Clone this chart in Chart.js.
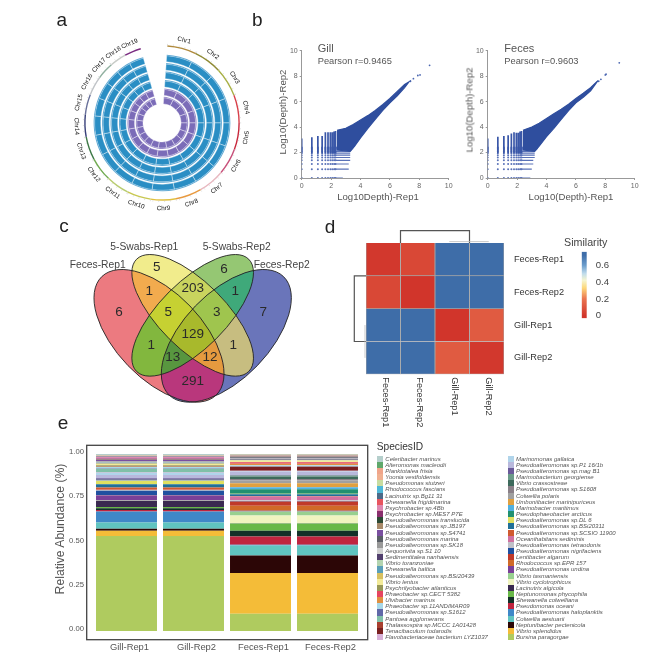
<!DOCTYPE html>
<html>
<head>
<meta charset="utf-8">
<script src="https://cdn.jsdelivr.net/npm/chart.js@4/dist/chart.umd.min.js"></script>
<style>
body { margin: 0; background: #fff; font-family: "Liberation Sans", Arial, sans-serif; }
#page { position: relative; width: 669px; height: 659px; overflow: hidden; filter: blur(0.35px); }
canvas { position: absolute; }
.txt { position: absolute; white-space: nowrap; transform-origin: center; }
.sw { position: absolute; width: 6px; height: 6.15px; }
</style>
</head>
<body>
<div id="page"></div>
<script>
// panel a : chromosome sizes (read from arc lengths)
const chrNames = ['Chr1','Chr2','Chr3','Chr4','Chr5','Chr6','Chr7','Chr8','Chr9','Chr10','Chr11','Chr12','Chr13','Chr14','Chr15','Chr16','Chr17','Chr18','Chr19'];
const chrSizes = [22,21,22,21,20,20,20,19.5,19,18,17.5,18,17.5,16.5,15.5,14.5,13,12.5,12.5];
const chrColors = ['#b08a3c','#8f8a34','#a8b044','#d8404a','#c8283c','#c8507a','#e8b8c0','#e89a40','#e0c040','#c8c850','#b8cc70','#70aa50','#3f7a48','#38407a','#68709a','#c0c4c8','#90b0a0','#c8ccc8','#7a2a80'];

// panel b : outline of the dense cloud and the discrete columns / rows
const depthColX = [0,0.69,1.1,1.39,1.61,1.79,1.95,2.08,2.2,2.3];
const depthLevels = [0,0.69,1.1,1.39,1.61,1.79,1.95,2.08,2.2,2.3,2.4];
const gillBodyX = [2.4,3,3.5,4,4.5,5,5.5,6,6.5,7,7.3,7,6.5,6,5.5,5,4.5,4,3.6,3.3,2.4];
const gillBodyY = [3.75,3.9,4.2,4.55,4.9,5.3,5.75,6.25,6.8,7.35,7.55,7.1,6.45,5.9,5.3,4.6,3.9,3.15,2.5,2.1,2.2];
const gillTipX = [7.4,7.6,7.9,8.05,8.7];
const gillTipY = [7.6,7.8,8.05,8.1,8.85];
const gillColTop = [3.1,3.2,3.3,3.3,3.6,3.6,3.6,3.6,3.65,3.7];
const gillRowEnd = [2.8,3.2,3.2,3.3,3.3,3.3,3.3,3.3,3.4,3.5,3.5];
const fecesBodyX = [2.4,3,3.5,4,4.5,5,5.5,6,6.5,7,7.5,7,6.5,6,5.5,5,4.5,4,3.5,3.2,2.4];
const fecesBodyY = [3.75,4,4.3,4.67,5.05,5.4,5.8,6.25,6.65,7.1,7.65,6.85,6.35,5.9,5.3,4.6,3.9,3.25,2.5,2.1,2.2];
const fecesTipX = [7.55,7.7,8,8.05,8.95];
const fecesTipY = [7.6,7.75,8.1,8.15,9.05];
const fecesColTop = [3.1,3.25,3.3,3.35,3.5,3.6,3.55,3.55,3.65,3.7];
const fecesRowEnd = [2.9,3,3.1,3.1,3.2,3.2,3.2,3.2,3.3,3.4,3.4];

// panel c : venn counts
const vennCounts = [6,5,6,7,1,203,1,5,3,129,1,1,13,12,291];
const vennNames = ['Feces-Rep1','5-Swabs-Rep1','5-Swabs-Rep2','Feces-Rep2'];

// panel d : similarity matrix
const heatNames = ['Feces-Rep1','Feces-Rep2','Gill-Rep1','Gill-Rep2'];
const heatRow1 = [0.01,0.06,0.75,0.75];
const heatRow2 = [0.06,0,0.75,0.75];
const heatRow3 = [0.75,0.75,0,0.12];
const heatRow4 = [0.75,0.75,0.12,0.01];

// panel e : species (legend order = top of the stack first)
const samples = ['Gill-Rep1','Gill-Rep2','Feces-Rep1','Feces-Rep2'];
const species = ['Celeribacter marinus','Alteromonas macleodii','Planktotalea frisia','Yoonia vestfoldensis','Pseudomonas stutzeri','Rhodococcus fascians','Lacinutrix sp.Bg11 31','Shewanella frigidimarina','Psychrobacter sp.4Bb','Psychrobacter sp.MES7 P7E','Pseudoalteromonas translucida','Pseudoalteromonas sp.JB197','Pseudoalteromonas sp.S4741','Pseudoalteromonas marina','Pseudoalteromonas sp.SK18','Aequorivita sp.S1 10','Sedimentitalea nanhaiensis','Vibrio toranzoniae','Shewanella baltica','Pseudoalteromonas sp.BSi20439','Vibrio lentus','Psychrilyobacter atlanticus','Phaeobacter sp.CECT 5382','Ulvibacter marinus','Phaeobacter sp.11ANDIMAR09','Pseudoalteromonas sp.S1612','Pantoea agglomerans','Thalassospira sp.MCCC 1A01428','Tenacibaculum todarodis','Flavobacteriaceae bacterium LYZ1037',
  'Marinomonas gallaica','Pseudoalteromonas sp.P1 16/1b','Pseudoalteromonas sp.mag B1','Marimobacterium georgiense','Vibrio crassostreae','Pseudoalteromonas sp.S1608','Colwellia polaris','Umboniibacter marinipuriceus','Marinobacter maritimus','Pseudophaeobacter arcticus','Pseudoalteromonas sp.DL 6','Pseudoalteromonas sp.BSi20311','Pseudoalteromonas sp.SCSIO 11900','Oceanihabitans sediminis','Pseudoalteromonas tetraodonis','Pseudoalteromonas nigrifaciens','Lentibacter algarum','Rhodococcus sp.EPR 157','Pseudoalteromonas undina','Vibrio tasmaniensis','Vibrio cyclotrophicus','Lacinutrix algicola','Neptunomonas phycophila','Shewanella colwelliana','Pseudomonas oceani','Pseudoalteromonas haloplanktis','Colwellia aestuarii','Neptunibacter pectenicola','Vibrio splendidus','Bursina paragorgae'];
const speciesColors = ['#b5cfcc','#5fa86b','#f0a58a','#f0b090','#c8dca0','#4fb8d8','#4b6b8a','#e8555f','#dd88b0','#8a2f6e','#2d4a35','#a88a6a','#7a4fa0','#5a5f66','#999999','#d0d0d0','#52406e','#b3d4b0','#5b9fb8','#d8c060','#f2ea98','#989858','#e64560','#e09040','#a8d8e8','#6068a8','#80c0a8','#a84030','#7a2020','#d8b0d8',
  '#b0d4ea','#b8b8dc','#6a5a9a','#6a9a88','#3d6a5c','#8a8088','#a0a0a0','#e0a040','#50b0e0','#209070','#e0e060','#207098','#d05a30','#d070a0','#c0c0c8','#2050a0','#c03a2a','#d06a28','#7a4098','#98d090','#f0f4c0','#3a2a50','#68b848','#123028','#c0243f','#3f88c8','#60c4c0','#2c0606','#f4bc38','#afcb5f'];
const gillShare = [0.007,0.001,0.002,0.001,0.001,0.001,0.002,0.002,0.009,0.005,0.002,0.001,0.006,0.002,0.002,0.002,0.002,0.002,0.004,0.002,0.008,0.008,0.001,0.001,0.006,0.004,0.017,0.001,0.001,0.002,
  0.014,0.018,0.008,0.001,0.001,0.002,0.001,0.001,0.001,0.001,0.018,0.018,0.013,0.001,0.004,0.026,0.001,0.001,0.027,0.001,0.001,0.036,0.007,0.010,0.008,0.062,0.036,0.010,0.030,0.537];
const fecesShare = [0.004,0.001,0.001,0.001,0.002,0.001,0.001,0.001,0.002,0.001,0.001,0.002,0.002,0.003,0.002,0.003,0.005,0.002,0.001,0.002,0.008,0.002,0.008,0.009,0.004,0.002,0.002,0.001,0.022,0.001,
  0.003,0.020,0.003,0.006,0.013,0.009,0.015,0.023,0.011,0.026,0.002,0.010,0.003,0.022,0.003,0.003,0.024,0.028,0.005,0.023,0.043,0.002,0.041,0.032,0.047,0.004,0.056,0.100,0.229,0.098];

const page = document.getElementById('page');
Chart.defaults.font.family = '"Liberation Sans", Arial, sans-serif';
Chart.defaults.animation = false;
Chart.defaults.plugins.legend.display = false;
Chart.defaults.plugins.tooltip.enabled = false;
Chart.defaults.responsive = false;

function addCanvas(left, top, w, h) {
  const c = document.createElement('canvas');
  c.width = w; c.height = h;
  c.style.left = left + 'px'; c.style.top = top + 'px';
  page.appendChild(c);
  return c;
}
function addText(text, x, y, size, color, opts) {
  opts = opts || {};
  const d = document.createElement('div');
  d.className = 'txt';
  d.textContent = text;
  d.style.left = x + 'px'; d.style.top = y + 'px';
  d.style.fontSize = size + 'px'; d.style.color = color;
  if (opts.italic) d.style.fontStyle = 'italic';
  const tx = opts.left ? '0' : '-50%';
  d.style.transform = 'translate(' + tx + ',-50%)' + (opts.rot ? ' rotate(' + opts.rot + 'deg)' : '');
  page.appendChild(d);
}

// ---- a ----
const trackColor = ['#2a8ec4','#2a8ec4','#2a8ec4','#2a8ec4','#7b6cb8','#7b6cb8'];
const softColor = ['#62aad4','#62aad4','#62aad4','#62aad4','#9a8fca','#9a8fca'];
const ringSets = [
  { data: chrSizes, weight: 1.2, backgroundColor: 'rgba(0,0,0,0)', borderWidth: 0 },
  { data: chrSizes, weight: 1.4, backgroundColor: chrColors, borderWidth: 0 },
  { data: chrSizes, weight: 8, backgroundColor: 'rgba(0,0,0,0)', borderWidth: 0 }
];
const trackGaps = [1.3,1.3,1.3,1.3,1.3,0];
trackColor.forEach(function (col, i) {
  ringSets.push({ data: chrSizes, weight: 1, backgroundColor: softColor[i], borderWidth: 0 });
  ringSets.push({ data: chrSizes, weight: 6.13, backgroundColor: col, borderColor: '#fff', borderWidth: 0.4 });
  if (trackGaps[i]) ringSets.push({ data: chrSizes, weight: trackGaps[i], backgroundColor: 'rgba(0,0,0,0)', borderWidth: 0 });
});
const chrLabelPlugin = {
  id: 'chrLabels',
  afterDatasetsDraw(chart) {
    const ctx = chart.ctx;
    const arcs = chart.getDatasetMeta(1).data;
    arcs.forEach(function (arc, i) {
      const a = (arc.startAngle + arc.endAngle) / 2;
      let rot = a + Math.PI / 2;
      if (rot > Math.PI / 2 && rot < Math.PI * 1.5) rot -= Math.PI;
      ctx.save();
      ctx.translate(arc.x + Math.cos(a) * 85.5, arc.y + Math.sin(a) * 85.5);
      ctx.rotate(rot);
      ctx.font = '6.3px "Liberation Sans"';
      ctx.fillStyle = '#111';
      ctx.textAlign = 'center';
      ctx.textBaseline = 'middle';
      ctx.fillText(chrNames[i], 0, 0);
      ctx.restore();
      // small ticks on the outer band
      ctx.save();
      ctx.strokeStyle = '#c4c4c4';
      ctx.lineWidth = 0.5;
      for (let t = arc.startAngle; t < arc.endAngle; t += 0.075) {
        ctx.beginPath();
        ctx.moveTo(arc.x + Math.cos(t) * arc.outerRadius, arc.y + Math.sin(t) * arc.outerRadius);
        ctx.lineTo(arc.x + Math.cos(t) * (arc.outerRadius + 1.4), arc.y + Math.sin(t) * (arc.outerRadius + 1.4));
        ctx.stroke();
      }
      ctx.restore();
    });
  }
};
new Chart(addCanvas(66.7, 28, 190, 190), {
  type: 'doughnut',
  data: { labels: chrNames, datasets: ringSets },
  options: { rotation: 4, circumference: 340, cutout: 19, layout: { padding: 16 } },
  plugins: [chrLabelPlugin]
});

// ---- b ----
function depthChart(canvas, bodyX, bodyY, tipX, tipY, colTop, rowEnd) {
  const body = bodyX.map(function (x, i) { return { x: x, y: bodyY[i] }; });
  const tips = tipX.map(function (x, i) { return { x: x, y: tipY[i] }; });
  const cols = [], rows = [], dots = [];
  depthColX.forEach(function (x, i) {
    cols.push({ x: x, y: 1.95 }, { x: x, y: colTop[i] }, { x: NaN, y: NaN });
    depthLevels.forEach(function (l) { dots.push({ x: x, y: l }); });
  });
  depthLevels.forEach(function (l, i) {
    rows.push({ x: 2.2, y: l }, { x: rowEnd[i], y: l }, { x: NaN, y: NaN });
  });
  new Chart(canvas, {
    type: 'scatter',
    data: { datasets: [
      { data: body, showLine: true, fill: 'shape', backgroundColor: '#2f4e9e', borderColor: '#2f4e9e', borderWidth: 1.2, pointRadius: 0 },
      { data: cols, showLine: true, borderColor: '#3a57a8', borderWidth: 1.7, pointRadius: 0 },
      { data: rows, showLine: true, borderColor: '#5a72b8', borderWidth: 1.2, pointRadius: 0 },
      { data: dots, pointRadius: 1, backgroundColor: '#5a72b8', borderWidth: 0 },
      { data: tips, pointRadius: 0.9, backgroundColor: '#4a66b0', borderWidth: 0 }
    ] },
    options: {
      layout: { padding: { top: 10.7, right: 13.3 } },
      scales: {
        x: { type: 'linear', min: 0, max: 10, afterFit: function (s) { s.height = 34; },
          border: { color: '#999' }, grid: { drawOnChartArea: false, tickLength: 2, color: '#999' },
          ticks: { stepSize: 2, font: { size: 7 }, color: '#666', padding: 2, maxRotation: 0 } },
        y: { type: 'linear', min: 0, max: 10, afterFit: function (s) { s.width = 46.7; },
          border: { color: '#999' }, grid: { drawOnChartArea: false, tickLength: 2, color: '#999' },
          ticks: { stepSize: 2, font: { size: 7 }, color: '#666', padding: 2 } }
      }
    }
  });
}
depthChart(addCanvas(255, 40, 207, 172), gillBodyX, gillBodyY, gillTipX, gillTipY, gillColTop, gillRowEnd);
depthChart(addCanvas(441, 40, 207, 172), fecesBodyX, fecesBodyY, fecesTipX, fecesTipY, fecesColTop, fecesRowEnd);
addText('Gill', 317.7, 47.7, 11, '#555', { left: true });
addText('Pearson r=0.9465', 317.7, 60.7, 9.3, '#555', { left: true });
addText('Log10(Depth)-Rep2', 281.7, 111.7, 9.6, '#555', { rot: -90 });
addText('Log10Depth)-Rep1', 378, 196, 9.6, '#555');
addText('Feces', 504.3, 48.3, 11, '#555', { left: true });
addText('Pearson r=0.9603', 504.3, 61, 9.3, '#555', { left: true });
addText('Log10(Depth)-Rep2', 469, 110, 9.6, '#555', { rot: -90 });
addText('Log10(Depth)-Rep1', 571, 196.3, 9.6, '#555');

// ---- c ----
const ellipses = [
  { cx: 327, cy: 377.5, a: 247, b: 129, rot: 46 },
  { cx: 428, cy: 316, a: 238, b: 99.6, rot: 45 },
  { cx: 428, cy: 316, a: 238, b: 99.6, rot: -45 },
  { cx: 529, cy: 377.5, a: 247, b: 129, rot: -46 }
];
// which ellipses make each region and its colour, small sets first
const vennRegions = [
  [[0],'#ec7a80'],[[1],'#f1ec8c'],[[2],'#95c773'],[[3],'#6a75ba'],
  [[0,1],'#f2ab4e'],[[1,2],'#c9d45e'],[[2,3],'#3fa97a'],[[0,2],'#82b73e'],[[1,3],'#c7bd80'],[[0,3],'#b9377c'],
  [[0,1,2],'#c6d132'],[[1,2,3],'#9fc54e'],[[0,2,3],'#58963f'],[[0,1,3],'#e59a3f'],
  [[0,1,2,3],'#a8b92c']
];
const vennLabelX = [207,320,522,640,298,428,556,355,500,428,304,550,368,480,428];
const vennLabelY = [308,172,178,308,245,235,245,308,308,373,405,405,443,443,515];
const vennPlugin = {
  id: 'vennShapes',
  beforeDatasetsDraw(chart) {
    const ctx = chart.ctx, sx = chart.scales.x, sy = chart.scales.y;
    const k = sx.getPixelForValue(1) - sx.getPixelForValue(0);
    function path(e) {
      ctx.beginPath();
      ctx.ellipse(sx.getPixelForValue(e.cx), sy.getPixelForValue(e.cy), e.a * k, e.b * k, e.rot * Math.PI / 180, 0, Math.PI * 2);
    }
    vennRegions.forEach(function (r) {
      ctx.save();
      r[0].forEach(function (i) { path(ellipses[i]); ctx.clip(); });
      ctx.fillStyle = r[1];
      ctx.fillRect(0, 0, chart.width, chart.height);
      ctx.restore();
    });
    ctx.strokeStyle = '#222';
    ctx.lineWidth = 0.9;
    ellipses.forEach(function (e) { path(e); ctx.stroke(); });
  },
  afterDatasetsDraw(chart) {
    const ctx = chart.ctx;
    ctx.font = '13.5px "Liberation Sans"';
    ctx.fillStyle = '#2a2a2a';
    ctx.textAlign = 'center';
    ctx.textBaseline = 'middle';
    chart.getDatasetMeta(0).data.forEach(function (pt, i) {
      ctx.fillText(vennCounts[i], pt.x, pt.y);
    });
  }
};
new Chart(addCanvas(50, 210, 260, 200), {
  type: 'scatter',
  data: { datasets: [{ data: vennCounts.map(function (v, i) { return { x: vennLabelX[i], y: vennLabelY[i] }; }), pointRadius: 0 }] },
  options: { scales: {
    x: { type: 'linear', min: 0, max: 780, display: false },
    y: { type: 'linear', min: 0, max: 600, reverse: true, display: false }
  } },
  plugins: [vennPlugin]
});
addText(vennNames[0], 97.7, 264.3, 10.3, '#444');
addText(vennNames[1], 144.3, 245.7, 10.3, '#444');
addText(vennNames[2], 236.7, 245.7, 10.3, '#444');
addText(vennNames[3], 281.7, 264.3, 10.3, '#444');

// ---- d ----
const simStops = [[0,[209,53,43]],[0.2,[234,116,80]],[0.33,[253,216,122]],[0.42,[245,245,208]],[0.5,[192,220,236]],[0.6,[106,156,203]],[0.72,[62,109,168]],[0.8,[62,109,168]]];
function simColor(v) {
  for (let i = 1; i < simStops.length; i++) {
    if (v <= simStops[i][0]) {
      const a = simStops[i - 1], b = simStops[i];
      const t = (v - a[0]) / (b[0] - a[0]);
      const c = a[1].map(function (p, n) { return Math.round(p + (b[1][n] - p) * t); });
      return 'rgb(' + c.join(',') + ')';
    }
  }
  return 'rgb(62,109,168)';
}
const heatRows = [heatRow1, heatRow2, heatRow3, heatRow4];
const heatPlugin = {
  id: 'heatExtras',
  afterDraw(chart) {
    const ctx = chart.ctx, a = chart.chartArea, sx = chart.scales.x, sy = chart.scales.y;
    const colMid = function (v) { return sx.getPixelForValue(v); };
    ctx.save();
    ctx.font = '9.2px "Liberation Sans"';
    ctx.fillStyle = '#333';
    ctx.textAlign = 'left';
    ctx.textBaseline = 'middle';
    heatNames.forEach(function (n, i) {
      ctx.save();
      ctx.translate(colMid(i) + 2, a.bottom + 3);
      ctx.rotate(Math.PI / 2);
      ctx.fillText(n, 0, 0);
      ctx.restore();
    });
    // dendrograms
    ctx.strokeStyle = '#555';
    ctx.lineWidth = 1.2;
    const x1 = (colMid(0) + colMid(1)) / 2, x2 = (colMid(2) + colMid(3)) / 2;
    ctx.beginPath();
    ctx.moveTo(x1, a.top); ctx.lineTo(x1, a.top - 12.3); ctx.lineTo(x2, a.top - 12.3); ctx.lineTo(x2, a.top);
    ctx.stroke();
    const y1 = sy.getPixelForValue(1), y2 = sy.getPixelForValue(3);
    ctx.beginPath();
    ctx.moveTo(a.left, y1); ctx.lineTo(a.left - 11.7, y1); ctx.lineTo(a.left - 11.7, y2); ctx.lineTo(a.left, y2);
    ctx.stroke();
    ctx.strokeStyle = '#bbb';
    ctx.lineWidth = 0.8;
    ctx.beginPath();
    ctx.moveTo(colMid(2) - 3, a.top - 1.4); ctx.lineTo(colMid(3) + 2, a.top - 1.4);
    ctx.moveTo(a.left - 1, sy.getPixelForValue(2.5)); ctx.lineTo(a.left - 1, sy.getPixelForValue(3.5));
    ctx.stroke();
    ctx.restore();
  }
};
new Chart(addCanvas(345, 225, 220, 205), {
  type: 'bar',
  data: {
    labels: heatNames,
    datasets: heatRows.map(function (row) {
      return { data: row.map(function () { return 1; }), backgroundColor: row.map(simColor), borderColor: '#a6a6a6', borderWidth: 0.8, barPercentage: 1, categoryPercentage: 1 };
    })
  },
  options: {
    layout: { padding: { left: 21, top: 18 } },
    scales: {
      x: { stacked: true, afterFit: function (s) { s.height = 55.7; }, grid: { display: false }, border: { display: false }, ticks: { display: false } },
      y: { stacked: true, type: 'linear', min: 0, max: 4, reverse: true, position: 'right',
        afterFit: function (s) { s.width = 61; },
        afterBuildTicks: function (s) { s.ticks = [0.5,1.5,2.5,3.5].map(function (v) { return { value: v }; }); },
        grid: { display: false }, border: { display: false },
        ticks: { autoSkip: false, font: { size: 9.2 }, color: '#333', padding: 2, callback: function (v) { return heatNames[Math.floor(v)]; } } }
    }
  },
  plugins: [heatPlugin]
});
// colour bar
const barTicks = [0,0.2,0.4,0.6];
new Chart(addCanvas(575, 245, 40, 80), {
  type: 'bar',
  data: { labels: ['Similarity'], datasets: [{ data: [[-0.03,0.76]], barPercentage: 1, categoryPercentage: 1,
    backgroundColor: function (c) {
      const ch = c.chart;
      if (!ch.chartArea) return '#fff';
      const y = ch.scales.y;
      const g = ch.ctx.createLinearGradient(0, y.getPixelForValue(-0.03), 0, y.getPixelForValue(0.76));
      simStops.forEach(function (s) {
        g.addColorStop(Math.min(1, (s[0] + 0.03) / 0.79), 'rgb(' + s[1].join(',') + ')');
      });
      return g;
    } }] },
  options: {
    layout: { padding: { left: 6.7, top: 4.7 } },
    scales: {
      x: { display: false },
      y: { position: 'right', min: -0.03, max: 0.76, afterFit: function (s) { s.width = 28.3; },
        afterBuildTicks: function (s) { s.ticks = barTicks.map(function (v) { return { value: v }; }); },
        grid: { display: false }, border: { display: false },
        ticks: { font: { size: 9.6 }, color: '#444', padding: 1, labelOffset: 0, callback: function (v) { return String(v); } } }
    }
  }
});
addText('Similarity', 585.7, 242.3, 10.7, '#444');

// ---- e ----
const framePlugin = {
  id: 'frameBox',
  afterDraw(chart) {
    const ctx = chart.ctx, a = chart.chartArea;
    ctx.save();
    ctx.strokeStyle = '#444';
    ctx.lineWidth = 1.3;
    ctx.strokeRect(a.left - 6.3, a.top - 8.7, a.width + 13, a.height + 17.4);
    ctx.restore();
  }
};
const stackSets = [];
for (let i = species.length - 1; i >= 0; i--) {
  stackSets.push({ label: species[i], data: [gillShare[i], gillShare[i], fecesShare[i], fecesShare[i]], backgroundColor: speciesColors[i], barPercentage: 0.91, categoryPercentage: 1, stack: 'all' });
}
new Chart(addCanvas(40, 435, 335, 222), {
  type: 'bar',
  data: { labels: samples, datasets: stackSets },
  options: {
    layout: { padding: { top: 19, right: 14 } },
    scales: {
      x: { stacked: true, afterFit: function (s) { s.height = 26; }, grid: { display: false }, border: { display: false },
        ticks: { font: { size: 9.4 }, color: '#555', padding: 3, labelOffset: 3, maxRotation: 0 } },
      y: { stacked: true, min: 0, max: 1, afterFit: function (s) { s.width = 53; }, grid: { display: false, tickLength: 0 }, border: { display: false },
        ticks: { stepSize: 0.25, font: { size: 7.7 }, color: '#555', padding: 9, labelOffset: -2, callback: function (v) { return v.toFixed(2); } } }
    }
  },
  plugins: [framePlugin]
});
addText('Relative Abundance (%)', 60, 529, 12.2, '#555', { rot: -90 });
addText('SpeciesID', 376.7, 445.7, 10.2, '#333', { left: true });
species.forEach(function (name, i) {
  const col = i < 30 ? 0 : 1;
  const row = i % 30;
  const top = 455.7 + row * 6.15;
  const sw = document.createElement('div');
  sw.className = 'sw';
  sw.style.left = (col ? 508 : 376.7) + 'px';
  sw.style.top = top + 'px';
  sw.style.background = speciesColors[i];
  page.appendChild(sw);
  addText(name, col ? 516 : 385.3, top + 3, 6, '#555', { left: true, italic: true });
});

// panel letters
addText('a', 61.7, 20, 19, '#222');
addText('b', 257.3, 20, 19, '#222');
addText('c', 64, 225.7, 19, '#222');
addText('d', 330, 226.7, 19, '#222');
addText('e', 63, 423, 19, '#222');
</script>
</body>
</html>
